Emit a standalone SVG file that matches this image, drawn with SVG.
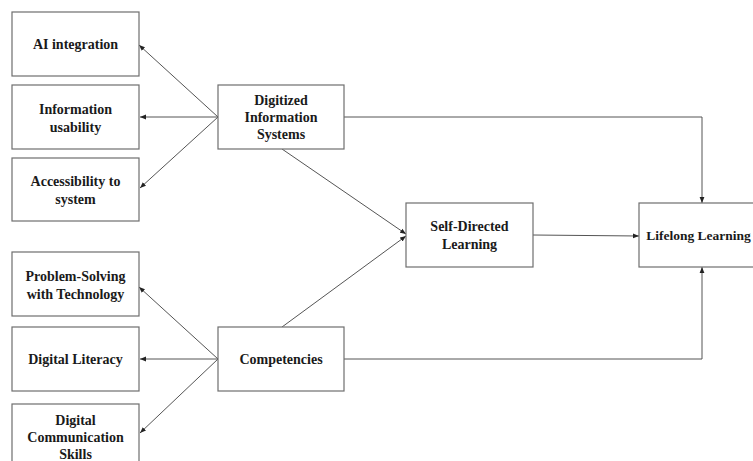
<svg xmlns="http://www.w3.org/2000/svg" width="753" height="461" viewBox="0 0 753 461">
<style>
.box{fill:#fff;stroke:#6e6e6e;stroke-width:1.2}
.t{font-family:"Liberation Serif","Times New Roman",serif;font-weight:bold;font-size:14px;fill:#1a1a1a;text-anchor:middle}
.c{fill:none;stroke:#555;stroke-width:1}
</style>
<defs>
<marker id="ah" viewBox="0 0 10 10" refX="10" refY="5" markerWidth="6" markerHeight="6" orient="auto" markerUnits="userSpaceOnUse">
<path d="M0,1 L10,5 L0,9 Z" fill="#222"/>
</marker>
</defs>
<rect width="753" height="461" fill="#fff"/>
<g id="connectors">
<line class="c" x1="218" y1="117" x2="139" y2="45" marker-end="url(#ah)"/>
<line class="c" x1="218" y1="117" x2="140" y2="117" marker-end="url(#ah)"/>
<line class="c" x1="218" y1="117" x2="140" y2="188" marker-end="url(#ah)"/>
<line class="c" x1="218" y1="359" x2="139" y2="287" marker-end="url(#ah)"/>
<line class="c" x1="218" y1="359" x2="140" y2="359" marker-end="url(#ah)"/>
<line class="c" x1="218" y1="359" x2="140" y2="433" marker-end="url(#ah)"/>
<line class="c" x1="282" y1="149" x2="406" y2="234" marker-end="url(#ah)"/>
<line class="c" x1="282" y1="327" x2="406" y2="236" marker-end="url(#ah)"/>
<line class="c" x1="533" y1="235" x2="639" y2="236" marker-end="url(#ah)"/>
<polyline class="c" points="344,117 702,117 702,203" marker-end="url(#ah)"/>
<polyline class="c" points="344,359 702,359 702,267" marker-end="url(#ah)"/>
</g>
<g id="ai-integration">
<rect class="box" x="12" y="12" width="127" height="64"/>
<text class="t" x="75.5" y="49">AI integration</text>
</g>
<g id="information-usability">
<rect class="box" x="12" y="85" width="127" height="64"/>
<text class="t" x="75.5" y="114">Information</text>
<text class="t" x="75.5" y="132">usability</text>
</g>
<g id="accessibility">
<rect class="box" x="12" y="158" width="127" height="63"/>
<text class="t" x="75.5" y="186">Accessibility to</text>
<text class="t" x="75.5" y="204">system</text>
</g>
<g id="digitized-information-systems">
<rect class="box" x="218" y="85" width="126" height="64"/>
<text class="t" x="281" y="105">Digitized</text>
<text class="t" x="281" y="122">Information</text>
<text class="t" x="281" y="139">Systems</text>
</g>
<g id="problem-solving">
<rect class="box" x="12" y="252" width="127" height="64"/>
<text class="t" x="75.5" y="281">Problem-Solving</text>
<text class="t" x="75.5" y="299">with Technology</text>
</g>
<g id="digital-literacy">
<rect class="box" x="12" y="327" width="127" height="64"/>
<text class="t" x="75.5" y="364">Digital Literacy</text>
</g>
<g id="digital-communication-skills">
<rect class="box" x="12" y="404" width="127" height="70"/>
<text class="t" x="75.5" y="425">Digital</text>
<text class="t" x="75.5" y="442">Communication</text>
<text class="t" x="75.5" y="459">Skills</text>
</g>
<g id="competencies">
<rect class="box" x="218" y="327" width="126" height="64"/>
<text class="t" x="281" y="364">Competencies</text>
</g>
<g id="self-directed-learning">
<rect class="box" x="406" y="203" width="127" height="64"/>
<text class="t" x="469.5" y="231">Self-Directed</text>
<text class="t" x="469.5" y="249">Learning</text>
</g>
<g id="lifelong-learning">
<rect class="box" x="639" y="203" width="127" height="64"/>
<text class="t" x="698.5" y="240" style="font-size:13.5px">Lifelong Learning</text>
</g>
</svg>
